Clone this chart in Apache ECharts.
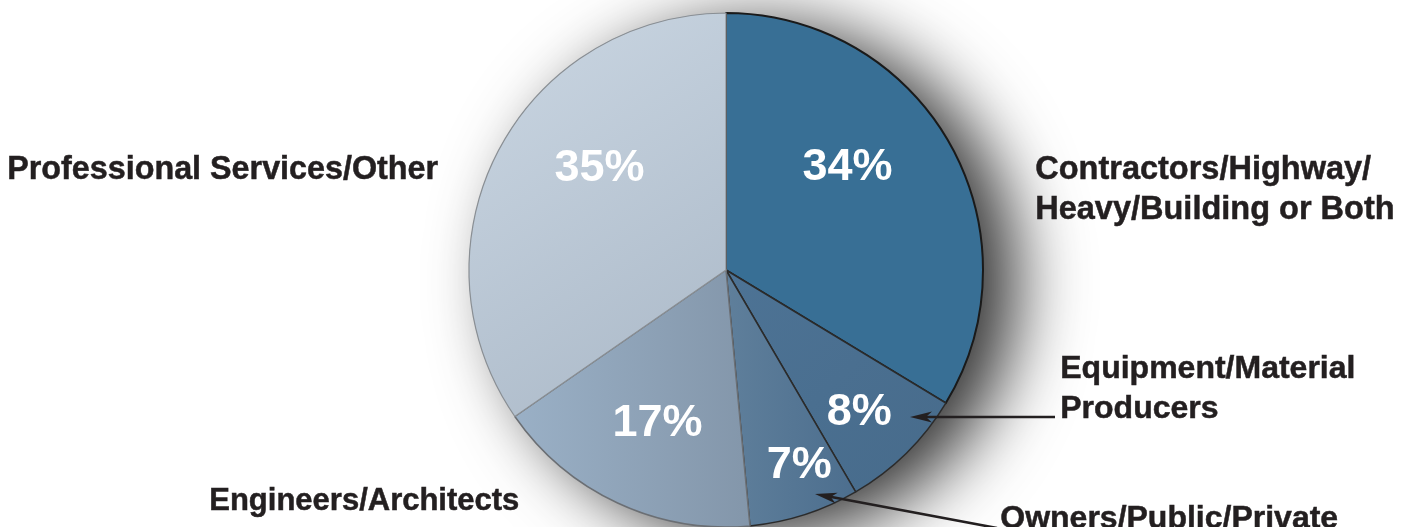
<!DOCTYPE html>
<html>
<head>
<meta charset="utf-8">
<script src="https://cdn.jsdelivr.net/npm/echarts@6/dist/echarts.min.js"></script>
<style>
html,body{margin:0;padding:0;background:#fff;}
#c{width:1408px;height:527px;}
</style>
</head>
<body>
<div id="c"></div>
<script>
const categories = [
  'Contractors/Highway/\nHeavy/Building or Both',
  'Equipment/Material\nProducers',
  'Owners/Public/Private',
  'Engineers/Architects',
  'Professional Services/Other'
];
const values = [34, 8, 7, 17, 35];

const FONT = '"Liberation Sans", Arial, Helvetica, sans-serif';
const CX = 726, CY = 270, R = 257;

function lin(c1, c2, x2, y2) {
  return {type: 'linear', x: 0, y: 0, x2: x2, y2: y2,
    colorStops: [{offset: 0, color: c1}, {offset: 1, color: c2}]};
}
const styles = [
  {color: '#386f95', borderColor: '#1a1a1a', borderWidth: 2, offset: [7, -38]},
  {color: lin('#4d7395', '#476b8b', 1, 1), borderColor: '#2b2b2b', borderWidth: 1.5, offset: [41, 49]},
  {color: lin('#5f7f9b', '#4c6e8e', 1, 0), borderColor: '#2b2b2b', borderWidth: 1.5, offset: [33, 70]},
  {color: lin('#9ab0c6', '#8396aa', 1, 0), borderColor: '#6b6f74', borderWidth: 1.5, offset: [-13, 34]},
  {color: lin('#cbd7e3', '#aab8c7', 1, 1), borderColor: '#8a8f94', borderWidth: 1.2, offset: [-10, -40]}
];

const data = values.map((v, i) => ({
  value: v,
  name: categories[i],
  itemStyle: {color: styles[i].color, borderColor: styles[i].borderColor, borderWidth: styles[i].borderWidth},
  label: {offset: styles[i].offset}
}));

function txt(str, x, y, size) {
  return {type: 'text', left: x, top: y, z: 100, style: {text: str, font: 'bold ' + (size || 32) + 'px ' + FONT, fill: '#231f20', stroke: '#231f20', lineWidth: 0.5, lineHeight: 40}};
}
function arrow(x1, y1, x2, y2) {
  const dx = x1 - x2, dy = y1 - y2, L = Math.hypot(dx, dy);
  const ux = dx / L, uy = dy / L, px = -uy, py = ux;
  const hl = 22, hw = 5.5;
  const bx = x2 + ux * hl, by = y2 + uy * hl;
  return [
    {type: 'line', z: 100, shape: {x1: x1, y1: y1, x2: x2 + ux * 10, y2: y2 + uy * 10}, style: {stroke: '#231f20', lineWidth: 2.6}},
    {type: 'polygon', z: 100, shape: {points: [[x2, y2], [bx + px * hw, by + py * hw], [x2 + ux * 16, y2 + uy * 16], [bx - px * hw, by - py * hw]]}, style: {fill: '#231f20'}}
  ];
}

const chart = echarts.init(document.getElementById('c'), null, {renderer: 'canvas'});
chart.setOption({
  backgroundColor: '#ffffff',
  animation: false,
  series: [
    {
      type: 'pie', silent: true, center: [CX, CY], radius: R, startAngle: 90, z: 1,
      label: {show: false}, labelLine: {show: false},
      data: [{value: 1, itemStyle: {color: '#9aa6b2', shadowBlur: 70, shadowOffsetX: 34, shadowOffsetY: 12, shadowColor: 'rgba(0,0,0,0.8)'}}]
    },
    {
      type: 'pie', center: [CX, CY], radius: R, startAngle: 90, clockwise: true, z: 2,
      label: {show: true, position: 'inside', formatter: '{c}%', color: '#ffffff', fontFamily: FONT, fontWeight: 'bold', fontSize: 45},
      labelLine: {show: false},
      data: data
    }
  ],
  graphic: [
    txt(categories[4], 7, 150, 32.3),
    txt(categories[0], 1035, 150, 32.5),
    txt(categories[1], 1060, 349, 32),
    txt(categories[3], 209, 481, 31),
    txt(categories[2], 1000, 499, 32),
    ...arrow(1055, 417, 910, 417),
    ...arrow(997, 528, 815, 494)
  ]
});
</script>
</body>
</html>
